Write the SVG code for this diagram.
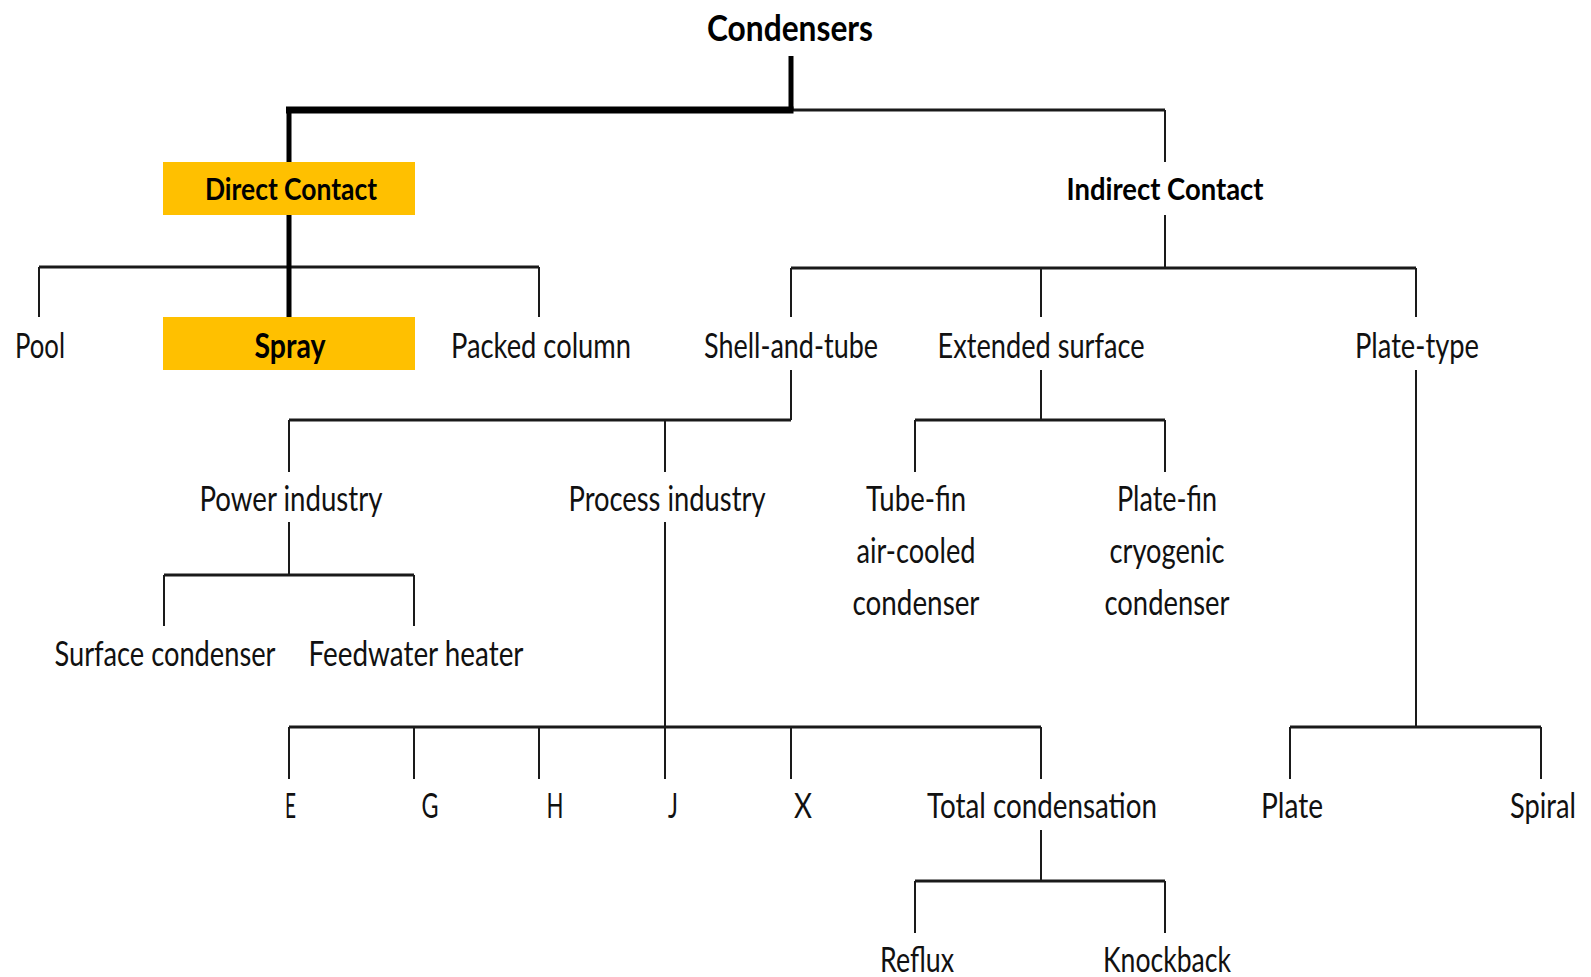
<svg xmlns="http://www.w3.org/2000/svg" width="1591" height="977" viewBox="0 0 1591 977">
<style>
.t{font-family:Lato,"Liberation Sans",sans-serif;font-size:35px;fill:#111;text-anchor:middle}
.b{font-family:Lato,"Liberation Sans",sans-serif;font-weight:bold;fill:#000;text-anchor:middle}
.h{fill:none;stroke:#1a1a1a;stroke-width:3}
.v{fill:none;stroke:#1a1a1a;stroke-width:2}
.box{fill:#FFC000}
</style>
<rect width="1591" height="977" fill="#fff"/>
<g id="connectors">
<path class="h" d="M791,110H1165M39,267H539M791,268H1416M289,420H791M915,420H1165M1290,727H1541M164,575H414M289,727H1041M915,881H1165"/>
<path class="v" d="M1165,110V162M1165,215V268M791,268V317M1041,268V317M1416,268V317M39,267V317M539,267V317M791,370V420M289,420V472M665,420V472M1041,370V420M915,420V472M1165,420V472M1416,370V727M1290,727V779M1541,727V779M289,522V575M164,575V626M414,575V626M665,522V727M289,727V779M414,727V779M539,727V779M665,727V779M791,727V779M1041,727V779M1041,830V881M915,881V933M1165,881V933"/>
<path d="M791,56V110" stroke="#000" stroke-width="5" fill="none"/>
<path d="M286,110H793.5" stroke="#000" stroke-width="7" fill="none"/>
<path d="M289,110V317" stroke="#000" stroke-width="5" fill="none"/>
</g>
<g id="condensers"><text class="b" x="790" y="41" font-size="37" textLength="166" lengthAdjust="spacingAndGlyphs">Condensers</text></g>
<g id="direct-contact"><rect class="box" x="163" y="162" width="252" height="53"/><text class="b" x="291" y="200" font-size="31" textLength="172" lengthAdjust="spacingAndGlyphs">Direct Contact</text></g>
<g id="indirect-contact"><text class="b" x="1165" y="200" font-size="31" textLength="197" lengthAdjust="spacingAndGlyphs">Indirect Contact</text></g>
<g id="pool"><text class="t" x="40" y="358" textLength="50" lengthAdjust="spacingAndGlyphs">Pool</text></g>
<g id="spray"><rect class="box" x="163" y="317" width="252" height="53"/><text class="b" x="290" y="358" font-size="34" textLength="71" lengthAdjust="spacingAndGlyphs">Spray</text></g>
<g id="packed-column"><text class="t" x="541" y="358" textLength="180" lengthAdjust="spacingAndGlyphs">Packed column</text></g>
<g id="shell-and-tube"><text class="t" x="791" y="358" textLength="174" lengthAdjust="spacingAndGlyphs">Shell-and-tube</text></g>
<g id="extended-surface"><text class="t" x="1041" y="358" textLength="207" lengthAdjust="spacingAndGlyphs">Extended surface</text></g>
<g id="plate-type"><text class="t" x="1417" y="358" textLength="124" lengthAdjust="spacingAndGlyphs">Plate-type</text></g>
<g id="power-industry"><text class="t" x="291" y="511" textLength="183" lengthAdjust="spacingAndGlyphs">Power industry</text></g>
<g id="process-industry"><text class="t" x="667" y="511" textLength="197" lengthAdjust="spacingAndGlyphs">Process industry</text></g>
<g id="tube-fin"><text class="t" x="916" y="511" textLength="100" lengthAdjust="spacingAndGlyphs">Tube-fin</text><text class="t" x="916" y="563" textLength="119" lengthAdjust="spacingAndGlyphs">air-cooled</text><text class="t" x="916" y="615" textLength="127" lengthAdjust="spacingAndGlyphs">condenser</text></g>
<g id="plate-fin"><text class="t" x="1167" y="511" textLength="100" lengthAdjust="spacingAndGlyphs">Plate-fin</text><text class="t" x="1167" y="563" textLength="115" lengthAdjust="spacingAndGlyphs">cryogenic</text><text class="t" x="1167" y="615" textLength="125" lengthAdjust="spacingAndGlyphs">condenser</text></g>
<g id="surface-condenser"><text class="t" x="165" y="666" textLength="221" lengthAdjust="spacingAndGlyphs">Surface condenser</text></g>
<g id="feedwater-heater"><text class="t" x="416" y="666" textLength="215" lengthAdjust="spacingAndGlyphs">Feedwater heater</text></g>
<g id="e"><text class="t" x="290.5" y="818" textLength="11" lengthAdjust="spacingAndGlyphs">E</text></g>
<g id="g"><text class="t" x="430" y="818" textLength="17" lengthAdjust="spacingAndGlyphs">G</text></g>
<g id="h"><text class="t" x="555" y="818" textLength="17" lengthAdjust="spacingAndGlyphs">H</text></g>
<g id="j"><text class="t" x="673" y="818" textLength="10" lengthAdjust="spacingAndGlyphs">J</text></g>
<g id="x"><text class="t" x="803" y="818" textLength="18" lengthAdjust="spacingAndGlyphs">X</text></g>
<g id="total-condensation"><text class="t" x="1042" y="818" textLength="230" lengthAdjust="spacingAndGlyphs">Total condensation</text></g>
<g id="plate"><text class="t" x="1292" y="818" textLength="62" lengthAdjust="spacingAndGlyphs">Plate</text></g>
<g id="spiral"><text class="t" x="1543" y="818" textLength="66" lengthAdjust="spacingAndGlyphs">Spiral</text></g>
<g id="reflux"><text class="t" x="917" y="972" textLength="74" lengthAdjust="spacingAndGlyphs">Reflux</text></g>
<g id="knockback"><text class="t" x="1167" y="972" textLength="128" lengthAdjust="spacingAndGlyphs">Knockback</text></g>
</svg>
